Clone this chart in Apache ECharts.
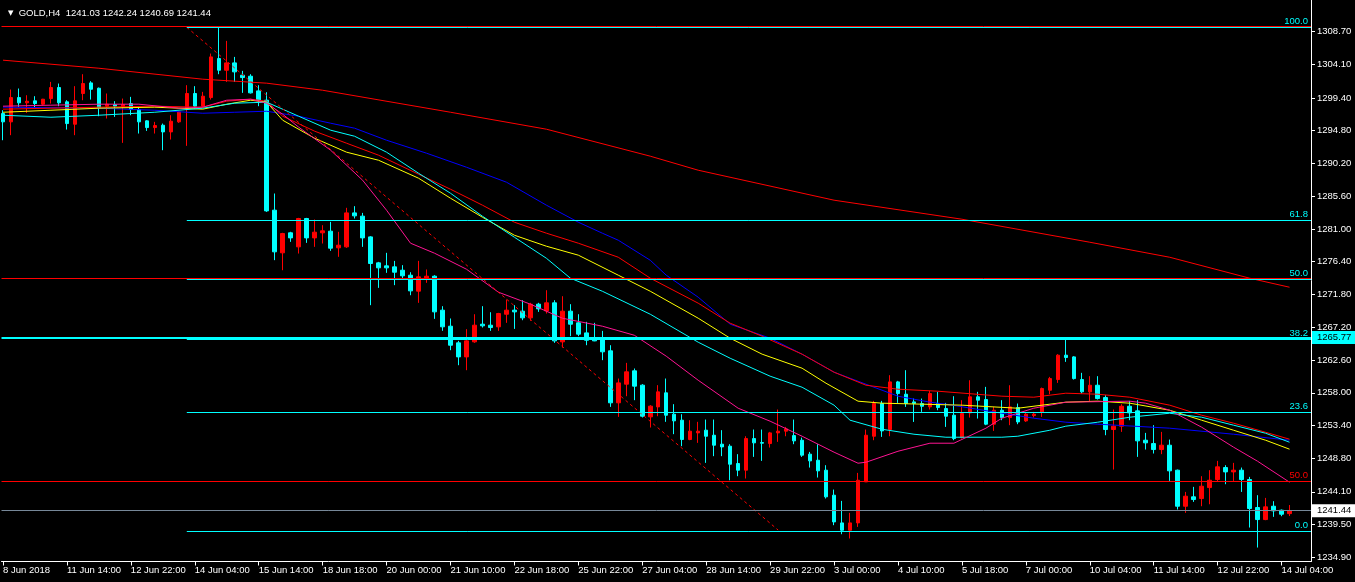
<!DOCTYPE html>
<html>
<head>
<meta charset="utf-8">
<script src="https://cdn.jsdelivr.net/npm/echarts@6/dist/echarts.min.js"></script>
<style>
html,body{margin:0;padding:0;background:#000;}
#main{width:1355px;height:582px;}
</style>
</head>
<body>
<div id="main"></div>
<script>
// ---------------- DATA ----------------
const symbolName = 'GOLD,H4';

const xLabels = ['8 Jun 2018','11 Jun 14:00','12 Jun 22:00','14 Jun 04:00','15 Jun 14:00','18 Jun 18:00',
  '20 Jun 00:00','21 Jun 10:00','22 Jun 18:00','25 Jun 22:00','27 Jun 04:00','28 Jun 14:00','29 Jun 22:00',
  '3 Jul 00:00','4 Jul 10:00','5 Jul 18:00','7 Jul 00:00','10 Jul 04:00','11 Jul 14:00','12 Jul 22:00','14 Jul 04:00'];
const barsPerLabel = 8;

const yTickValues = [1234.90,1239.50,1244.10,1248.80,1253.40,1258.00,1262.60,1267.20,1271.80,
  1276.40,1281.00,1285.60,1290.20,1294.80,1299.40,1304.10,1308.70];

const opens = [
1297.21,1296.04,1299.45,1298.71,1298.99,1298.52,1299.31,1300.86,1298.85,1295.71,
1300.02,1301.51,1300.76,1298.24,1298.47,1298.14,1298.61,1297.77,1296.18,1295.24,
1295.57,1294.63,1296.04,1297.91,1300.02,1298.24,1299.45,1304.93,1303.29,1304.32,
1302.59,1302.45,1300.39,1299.08,1283.64,1277.65,1280.46,1278.49,1282.47,1279.75,
1280.46,1280.69,1278.35,1278.49,1283.26,1282.80,1279.89,1276.24,1275.82,1275.68,
1275.21,1274.51,1272.27,1274.09,1274.37,1269.60,1267.35,1265.01,1263.04,1265.15,
1267.63,1267.49,1267.26,1269.03,1269.60,1269.46,1268.52,1270.44,1269.50,1270.63,
1265.15,1269.46,1267.82,1266.41,1265.48,1265.48,1263.89,1256.59,1259.21,1261.08,
1259.07,1254.62,1256.02,1257.99,1254.99,1254.15,1251.44,1252.37,1252.75,1252.04,
1250.78,1250.50,1248.07,1247.13,1251.57,1251.01,1250.87,1252.37,1252.61,1251.99,
1251.34,1249.38,1248.53,1247.13,1243.62,1239.73,1238.70,1239.73,1245.49,1251.90,
1256.49,1252.84,1259.53,1257.80,1256.72,1256.49,1256.02,1256.49,1255.79,1254.85,
1251.71,1255.18,1257.43,1257.05,1253.59,1255.55,1254.52,1255.93,1254.05,1254.80,
1255.32,1258.36,1259.86,1263.28,1263.04,1259.86,1258.13,1259.06,1257.33,1252.84,
1253.31,1256.11,1255.46,1251.34,1250.87,1250.03,1250.64,1247.13,1242.07,1243.39,
1243.15,1244.69,1245.82,1247.50,1246.89,1247.13,1245.82,1241.89,1240.20,1242.07,
1241.51,1241.03];
const closes = [
1296.04,1299.45,1298.71,1298.94,1298.61,1299.22,1300.86,1298.71,1295.80,1298.99,
1301.42,1300.62,1298.05,1298.52,1298.24,1298.47,1297.77,1296.04,1295.24,1295.52,
1294.63,1296.13,1297.44,1300.02,1298.24,1299.64,1305.16,1303.29,1304.32,1303.06,
1302.26,1300.11,1299.08,1283.54,1277.79,1280.36,1279.75,1282.47,1279.75,1280.55,
1280.74,1278.30,1278.72,1283.26,1282.84,1279.75,1276.15,1275.54,1275.54,1274.93,
1274.42,1272.31,1274.28,1274.37,1269.36,1267.26,1264.68,1263.04,1265.29,1267.49,
1267.40,1267.16,1269.13,1269.60,1269.36,1268.52,1270.44,1269.78,1270.63,1265.29,
1269.46,1267.63,1266.23,1265.38,1265.29,1263.75,1256.59,1259.39,1260.94,1258.93,
1254.71,1256.12,1258.13,1254.85,1254.06,1251.44,1252.61,1252.61,1251.90,1250.64,
1250.40,1247.97,1247.13,1251.57,1250.97,1250.92,1252.37,1252.61,1252.93,1251.25,
1249.24,1248.44,1247.04,1243.39,1239.87,1238.70,1239.73,1245.72,1252.04,1256.49,
1252.65,1259.53,1257.89,1256.49,1256.49,1256.11,1257.89,1255.93,1254.71,1251.57,
1255.08,1257.43,1256.96,1253.59,1255.55,1254.52,1256.02,1253.91,1254.99,1254.99,
1258.59,1259.99,1263.28,1262.95,1259.99,1258.13,1259.06,1257.19,1252.84,1253.31,
1256.11,1255.18,1251.25,1250.97,1250.03,1250.64,1247.04,1242.07,1243.48,1243.01,
1244.88,1245.72,1247.60,1246.89,1247.13,1245.82,1241.75,1240.20,1241.98,1241.42,
1240.95,1241.44];
const lows = [
1293.46,1294.17,1298.14,1297.30,1298.05,1298.33,1298.61,1298.24,1294.96,1294.17,
1299.08,1299.17,1296.83,1296.51,1296.74,1293.09,1296.97,1294.40,1294.77,1294.40,
1292.06,1293.56,1295.90,1292.67,1297.91,1298.05,1299.17,1302.73,1301.65,1301.65,
1300.11,1300.02,1298.24,1283.40,1276.62,1275.21,1279.19,1277.55,1279.05,1278.49,
1278.96,1277.93,1277.09,1278.35,1282.47,1278.49,1270.30,1272.73,1274.84,1273.11,
1273.90,1271.70,1270.63,1273.44,1268.38,1266.70,1263.98,1261.87,1261.17,1265.01,
1267.16,1266.69,1266.69,1267.82,1266.97,1268.19,1268.10,1269.36,1269.13,1265.01,
1264.35,1265.95,1265.95,1264.68,1265.24,1262.58,1256.02,1254.62,1257.52,1256.96,
1254.53,1253.12,1254.71,1253.92,1252.19,1250.50,1251.34,1250.97,1248.16,1249.10,
1249.10,1245.72,1246.29,1245.96,1249.00,1248.44,1250.31,1251.11,1251.90,1250.78,
1249.00,1247.50,1246.10,1243.15,1239.41,1238.14,1237.54,1239.17,1245.49,1251.34,
1251.81,1251.90,1256.58,1256.02,1253.91,1255.32,1255.65,1255.55,1253.21,1251.34,
1251.57,1254.52,1254.38,1253.45,1252.65,1254.15,1253.45,1253.59,1253.91,1254.52,
1254.62,1257.80,1259.39,1262.34,1259.86,1257.89,1256.86,1257.05,1252.04,1247.22,
1252.51,1254.15,1249.00,1250.03,1249.47,1249.38,1245.63,1241.61,1241.14,1242.68,
1242.07,1242.35,1245.49,1245.16,1245.63,1244.08,1239.08,1236.27,1240.11,1240.58,
1240.67,1240.69];
const highs = [
1297.68,1300.58,1300.72,1299.78,1299.64,1299.27,1301.65,1301.42,1299.08,1301.05,
1302.73,1301.75,1300.86,1300.02,1298.94,1299.31,1299.55,1298.14,1296.27,1296.04,
1295.80,1296.97,1297.54,1301.19,1301.05,1300.25,1305.63,1309.28,1307.41,1305.16,
1303.20,1302.73,1301.19,1300.20,1285.98,1280.46,1280.60,1282.56,1282.56,1282.33,
1281.53,1282.00,1280.60,1283.97,1284.20,1283.26,1279.99,1276.38,1277.65,1276.52,
1275.92,1274.93,1276.52,1275.31,1274.51,1270.16,1268.43,1265.29,1266.93,1269.03,
1270.16,1269.31,1269.22,1271.09,1270.30,1271.00,1270.63,1270.63,1272.40,1271.00,
1271.56,1270.44,1269.03,1267.96,1267.82,1266.69,1264.68,1260.00,1262.20,1261.41,
1259.21,1256.26,1259.07,1260.00,1256.40,1254.99,1254.15,1253.92,1254.24,1254.24,
1252.75,1250.78,1249.38,1251.90,1252.84,1252.84,1252.51,1255.65,1253.21,1254.24,
1251.71,1249.70,1250.78,1247.83,1244.41,1242.82,1241.14,1246.75,1252.84,1256.86,
1256.86,1260.47,1259.67,1261.17,1257.19,1257.19,1258.27,1258.13,1256.58,1257.52,
1256.96,1259.76,1258.13,1258.83,1256.02,1256.96,1259.06,1256.49,1255.18,1255.32,
1258.73,1260.23,1263.42,1265.76,1263.14,1260.80,1260.33,1260.33,1257.66,1255.65,
1256.40,1256.86,1256.96,1252.37,1253.45,1252.51,1251.43,1247.22,1244.08,1244.79,
1246.29,1247.13,1248.44,1247.83,1248.16,1247.50,1246.19,1243.62,1243.24,1242.78,
1241.61,1242.24];

// moving averages: [bar index, price]
const maSlow = [[0,1304.70],[12,1303.57],[25,1302.03],[33,1301.47],[40,1300.48],[56,1297.39],
  [68,1295.01],[81,1291.22],[87,1289.25],[104,1285.04],[120,1282.37],[136,1279.14],[146,1277.03],
  [156,1274.09],[161,1272.82]];
const maBlue = [[0,1298.10],[12,1297.96],[19,1297.67],[25,1297.25],[29,1297.39],[33,1297.53],
  [37,1296.83],[41,1295.85],[44,1295.15],[48,1293.46],[53,1291.64],[58,1289.67],[63,1287.57],
  [68,1284.34],[72,1281.95],[75,1280.41],[77,1279.42],[81,1276.61],[83,1274.51],[87,1271.42],
  [91,1267.63],[96,1265.66],[100,1263.42],[104,1260.89],[108,1259.20],[112,1257.52],[116,1256.68],
  [118,1256.40],[125,1255.13],[129,1254.43],[133,1253.87],[137,1253.59],[146,1253.03],[154,1252.18],
  [161,1251.34]];
const maRed = [[0,1297.82],[6,1297.96],[12,1298.10],[19,1298.24],[25,1298.10],[28,1298.94],
  [31,1299.22],[33,1298.94],[35,1296.83],[39,1294.73],[43,1293.04],[47,1291.36],[52,1288.69],
  [56,1286.58],[60,1284.34],[64,1281.95],[68,1280.41],[72,1279.00],[77,1277.03],[81,1274.09],
  [87,1270.58],[91,1267.77],[95,1265.94],[100,1263.42],[104,1260.89],[108,1259.06],[112,1258.50],
  [117,1258.22],[125,1257.52],[129,1257.38],[133,1257.94],[137,1257.80],[141,1257.38],[146,1256.26],
  [150,1254.85],[154,1253.73],[158,1252.46],[161,1251.48]];
const maYellow = [[0,1297.39],[6,1297.67],[12,1297.96],[19,1298.10],[25,1297.82],[28,1298.52],
  [31,1299.08],[33,1298.80],[35,1296.27],[39,1293.74],[43,1291.78],[47,1290.65],[52,1288.13],
  [56,1285.32],[60,1282.65],[64,1280.12],[68,1278.58],[72,1277.32],[77,1274.51],[81,1272.26],
  [87,1268.47],[91,1265.66],[95,1263.42],[100,1261.45],[103,1259.34],[107,1256.82],[110,1256.54],
  [120,1256.26],[127,1255.83],[133,1256.68],[137,1256.82],[141,1256.54],[146,1255.55],[150,1254.15],
  [154,1252.74],[158,1251.34],[161,1250.08]];
const maCyan = [[0,1296.97],[6,1296.69],[12,1296.97],[19,1297.39],[25,1297.96],[29,1298.66],
  [33,1298.80],[37,1296.83],[41,1294.87],[44,1294.02],[48,1291.78],[52,1288.83],[56,1286.02],
  [60,1282.79],[64,1279.84],[68,1276.89],[71,1274.09],[75,1272.26],[81,1269.03],[87,1265.10],
  [91,1262.85],[96,1260.33],[100,1258.78],[104,1256.26],[106,1254.15],[110,1252.88],[114,1252.18],
  [118,1251.76],[125,1251.76],[127,1251.90],[131,1252.74],[133,1253.31],[137,1253.87],[141,1254.57],
  [146,1255.13],[150,1254.57],[154,1253.45],[158,1252.32],[161,1251.06]];
const maPink = [[0,1298.24],[6,1298.38],[12,1298.52],[17,1298.52],[22,1297.96],[25,1298.10],
  [28,1299.08],[31,1299.22],[33,1298.66],[35,1297.11],[37,1295.29],[41,1292.06],[45,1287.85],
  [48,1283.63],[51,1279.00],[54,1277.60],[58,1275.35],[62,1272.12],[66,1270.44],[70,1268.47],
  [75,1267.35],[79,1266.08],[83,1263.14],[87,1259.76],[92,1255.83],[96,1254.01],[100,1251.90],
  [104,1249.66],[107,1248.11],[108,1248.25],[112,1249.79],[116,1250.92],[119,1250.92],[123,1253.02],
  [125,1254.43],[129,1255.83],[133,1256.68],[141,1256.82],[143,1256.54],[146,1255.55],[150,1253.17],
  [154,1250.36],[157,1248.39],[161,1245.44]];

// Fibonacci (cyan) levels, anchored at bar 23
const fibLabels = ['100.0','61.8','50.0','38.2','23.6','0.0'];
const fibPrices = [1309.32,1282.26,1273.93,1265.51,1255.30,1238.59];
const fibStartBar = 23;
const fibTrendLine = [[23,1309.32],[97,1238.73]];

// other horizontal lines
const redLinePrices = [1309.50,1274.12];
const redLabeledLine = {label:'50.0', price:1245.61};
const markedHigh = 1265.77;
const bidPrice = 1241.44;

// ---------------- CHART ----------------
const FONT = 'Liberation Sans';
const FS = 9.5;
const xMin = -0.1875, xMax = 163.6875;
const yMin = 1234.31, yMax = 1313.15;

const n = opens.length;
const candleData = opens.map((o, i) => [i, o, closes[i], lows[i], highs[i]]);
const last = n - 1;
const titleText = symbolName + '  ' + opens[last].toFixed(2) + ' ' + highs[last].toFixed(2) + ' ' +
  lows[last].toFixed(2) + ' ' + closes[last].toFixed(2);

const chart = echarts.init(document.getElementById('main'), null, {renderer: 'canvas'});

function maSeries(data, color) {
  return {type:'line', data:data, symbol:'none', smooth:false, silent:true, z:3,
    lineStyle:{color:color, width:1}, clip:true};
}

const markLines = [];
// full-width red lines
redLinePrices.forEach(p => markLines.push({yAxis:p, lineStyle:{color:'#ff0000', width:1, type:'solid'}, label:{show:false}}));
markLines.push({yAxis:redLabeledLine.price, lineStyle:{color:'#ff0000', width:1, type:'solid'},
  label:{show:true, position:'insideEndTop', formatter:redLabeledLine.label, color:'#ff0000',
    fontFamily:FONT, fontSize:FS, distance:[3,1]}});
// bid line
markLines.push({yAxis:bidPrice, lineStyle:{color:'#778899', width:1, type:'solid'},
  label:{show:true, position:'end', formatter:bidPrice.toFixed(2), color:'#000', backgroundColor:'#ffffff',
    fontFamily:FONT, fontSize:FS, padding:[2,4,1,5], distance:1}});
// marked high line
markLines.push({yAxis:markedHigh, lineStyle:{color:'#00ffff', width:2, type:'solid'},
  label:{show:true, position:'end', formatter:markedHigh.toFixed(2), color:'#000', backgroundColor:'#00ffff',
    fontFamily:FONT, fontSize:FS, padding:[2,4,1,5], distance:1}});
// fib levels
fibPrices.forEach((p, k) => markLines.push([
  {coord:[fibStartBar, p], lineStyle:{color:'#00ffff', width:1, type:'solid'},
   label:{show:true, position:'insideEndTop', formatter:fibLabels[k], color:'#00ffff',
     fontFamily:FONT, fontSize:FS, distance:[3,1]}},
  {coord:[xMax, p]}
]));

const option = {
  backgroundColor:'#000000',
  animation:false,
  textStyle:{fontFamily:FONT},
  title:{
    text:'{tri|▼}  ' + titleText,
    left:3, top:3,
    textStyle:{color:'#ffffff', fontFamily:FONT, fontSize:FS, fontWeight:'normal',
      rich:{tri:{color:'#ffffff', fontSize:7, fontFamily:'DejaVu Sans'}}}
  },
  grid:{left:0, right:44, top:0, bottom:20.5, containLabel:false},
  xAxis:{
    type:'value', min:xMin, max:xMax,
    axisLine:{show:true, onZero:false, lineStyle:{color:'#ffffff', width:1}},
    axisTick:{show:true, length:4, lineStyle:{color:'#ffffff'},
      customValues:xLabels.map((_, k) => k * barsPerLabel)},
    axisLabel:{show:true, color:'#ffffff', fontFamily:FONT, fontSize:FS, margin:4, align:'left',
      customValues:xLabels.map((_, k) => k * barsPerLabel),
      formatter:v => xLabels[Math.round(v / barsPerLabel)] || ''},
    splitLine:{show:false}
  },
  yAxis:{
    type:'value', position:'right', min:yMin, max:yMax, scale:true,
    axisLine:{show:true, onZero:false, lineStyle:{color:'#ffffff', width:1}},
    axisTick:{show:true, length:4, lineStyle:{color:'#ffffff'}, customValues:yTickValues},
    axisLabel:{show:true, color:'#ffffff', fontFamily:FONT, fontSize:FS, margin:6,
      customValues:yTickValues, formatter:v => v.toFixed(2)},
    splitLine:{show:false}
  },
  series:[
    {
      type:'candlestick', data:candleData, barWidth:4, silent:true, z:2,
      itemStyle:{color:'#ff0000', color0:'#00ffff', borderColor:'#ff0000', borderColor0:'#00ffff', borderWidth:1}
    },
    maSeries(maSlow, '#ff0000'),
    maSeries(maBlue, '#0000ff'),
    maSeries(maRed, '#ff0000'),
    maSeries(maYellow, '#ffff00'),
    maSeries(maCyan, '#00ffff'),
    maSeries(maPink, '#ff1493'),
    {
      type:'line', data:fibTrendLine, symbol:'none', silent:true, z:3,
      lineStyle:{color:'#ff0000', width:1, type:[3,3]}
    },
    {
      type:'line', data:[], silent:true, z:4,
      markLine:{silent:true, symbol:['none','none'], animation:false, precision:2,
        label:{show:false}, data:markLines}
    }
  ]
};
chart.setOption(option);
</script>
</body>
</html>
